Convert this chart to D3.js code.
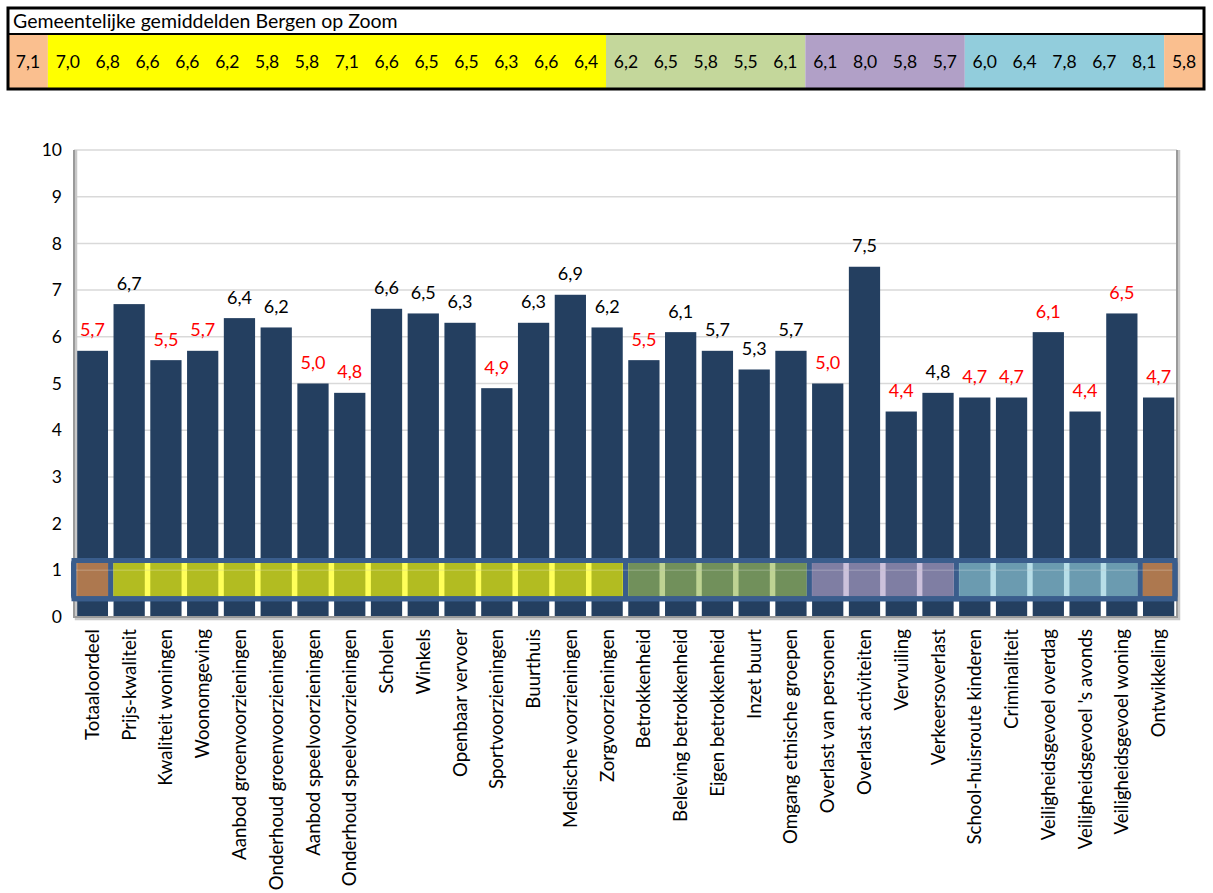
<!DOCTYPE html>
<html>
<head>
<meta charset="utf-8">
<script src="https://cdn.jsdelivr.net/npm/d3@7"></script>
<style>
  html, body { margin: 0; padding: 0; background: #ffffff; }
  svg { display: block; font-family: Lato, "Noto Sans", sans-serif; }
</style>
</head>
<body>
<script>
// Wijkscores per thema, met de gemeentelijke gemiddelden in de kopregel
const categories = [
  "Totaaloordeel", "Prijs-kwaliteit", "Kwaliteit woningen", "Woonomgeving",
  "Aanbod groenvoorzieningen", "Onderhoud groenvoorzieningen",
  "Aanbod speelvoorzieningen", "Onderhoud speelvoorzieningen",
  "Scholen", "Winkels", "Openbaar vervoer", "Sportvoorzieningen", "Buurthuis",
  "Medische voorzieningen", "Zorgvoorzieningen",
  "Betrokkenheid", "Beleving betrokkenheid", "Eigen betrokkenheid", "Inzet buurt",
  "Omgang etnische groepen",
  "Overlast van personen", "Overlast activiteiten", "Vervuiling", "Verkeersoverlast",
  "School-huisroute kinderen", "Criminaliteit", "Veiligheidsgevoel overdag",
  "Veiligheidsgevoel 's avonds", "Veiligheidsgevoel woning",
  "Ontwikkeling"
];

const scores = [
  5.7, 6.7, 5.5, 5.7, 6.4, 6.2, 5.0, 4.8, 6.6, 6.5, 6.3, 4.9, 6.3, 6.9, 6.2,
  5.5, 6.1, 5.7, 5.3, 5.7,
  5.0, 7.5, 4.4, 4.8,
  4.7, 4.7, 6.1, 4.4, 6.5,
  4.7
];

// scores flagged as clearly below the municipal average
const belowAverage = [
  true, false, true, true, false, false, true, true, false, false, false, true, false, false, false,
  true, false, false, false, false,
  true, false, true, false,
  true, true, true, true, true,
  true
];

const cityAverages = [
  7.1,
  7.0, 6.8, 6.6, 6.6, 6.2, 5.8, 5.8, 7.1, 6.6, 6.5, 6.5, 6.3, 6.6, 6.4,
  6.2, 6.5, 5.8, 5.5, 6.1,
  6.1, 8.0, 5.8, 5.7,
  6.0, 6.4, 7.8, 6.7, 8.1,
  5.8
];

// number of themes in each cluster, left to right
const groupSizes = [1, 14, 5, 4, 5, 1];

const yTicks = d3.range(0, 11);

const headerTitle = "Gemeentelijke gemiddelden Bergen op Zoom";

// ---- styling ----
const headerFills  = ["#fabf8f", "#ffff00", "#c4d79b", "#b1a0c7", "#92cddc", "#fabf8f"];
const overlayFills = ["#f79646", "#ffff00", "#9bbb59", "#b1a0c7", "#92cddc", "#f79646"];
const barColor = "#243f60";
const stripColor = "#3a5d8c";

const W = 1213, H = 893;
const comma = d3.formatLocale({ decimal: ",", thousands: ".", grouping: [3], currency: ["€", ""] }).format(".1f");

const svg = d3.select("body").append("svg").attr("width", W).attr("height", H);

// group ranges [start, end] as indices
const groups = [];
let start = 0;
groupSizes.forEach((n, i) => { groups.push({ s: start, e: start + n - 1, i }); start += n; });

// ---------- header table ----------
const hx = d3.scaleBand().domain(d3.range(cityAverages.length)).range([8, 1204]);
const hTop = 8, hMid = 34, hBot = 89;

const header = svg.append("g");
header.selectAll("rect.grp").data(groups).join("rect")
  .attr("x", d => hx(d.s))
  .attr("y", hMid)
  .attr("width", d => hx(d.e) + hx.bandwidth() - hx(d.s))
  .attr("height", hBot - hMid)
  .attr("fill", d => headerFills[d.i]);

header.append("text")
  .attr("x", 13).attr("y", hTop + 20)
  .attr("font-size", 19.5).attr("fill", "#000")
  .text(headerTitle);

header.selectAll("text.avg").data(cityAverages).join("text")
  .attr("class", "avg")
  .attr("x", (d, i) => hx(i) + hx.bandwidth() / 2)
  .attr("y", (hMid + hBot) / 2 + 6)
  .attr("text-anchor", "middle")
  .attr("font-size", 17.5).attr("fill", "#000")
  .text(d => comma(d));

header.append("line")
  .attr("x1", 8).attr("x2", 1204).attr("y1", hMid).attr("y2", hMid)
  .attr("stroke", "#000").attr("stroke-width", 2);
header.append("rect")
  .attr("x", 8).attr("y", hTop).attr("width", 1196).attr("height", hBot - hTop)
  .attr("fill", "none").attr("stroke", "#000").attr("stroke-width", 3);

// ---------- bar chart ----------
const plot = { left: 74, right: 1177, top: 150, bottom: 617 };

const x = d3.scaleBand().domain(categories)
  .range([plot.left, plot.right])
  .paddingInner(0.15).paddingOuter(0.075);
const y = d3.scaleLinear().domain([0, 10]).range([plot.bottom, plot.top]);

// gridlines
svg.append("g").selectAll("line").data(yTicks.filter(t => t > 0)).join("line")
  .attr("x1", plot.left).attr("x2", plot.right)
  .attr("y1", d => y(d)).attr("y2", d => y(d))
  .attr("stroke", "#d9d9d9").attr("stroke-width", 1.5);

// y axis labels
const yAxis = d3.axisLeft(y).tickValues(yTicks).tickSize(0).tickPadding(12)
  .tickFormat(d3.format("d"));
const yg = svg.append("g").attr("transform", `translate(${plot.left},0)`).call(yAxis);
yg.select(".domain").remove();
yg.selectAll("text").attr("font-size", 17.5).attr("fill", "#000")
  .attr("font-family", "Lato, sans-serif");

// bars
svg.append("g").selectAll("rect").data(scores).join("rect")
  .attr("x", (d, i) => x(categories[i]))
  .attr("y", d => y(d))
  .attr("width", x.bandwidth())
  .attr("height", d => y(0) - y(d))
  .attr("fill", barColor);

// value labels
svg.append("g").selectAll("text").data(scores).join("text")
  .attr("x", (d, i) => x(categories[i]) + x.bandwidth() / 2)
  .attr("y", d => y(d) - 14.5)
  .attr("text-anchor", "middle")
  .attr("font-size", 18)
  .attr("fill", (d, i) => belowAverage[i] ? "#ff0000" : "#000")
  .text(d => comma(d));

// plot frame: left, bottom, right with a soft shadow
const frame = svg.append("g");
frame.append("path")
  .attr("d", `M${plot.left + 2},${plot.top} V${plot.bottom + 2} H${plot.right + 2} V${plot.top}`)
  .attr("fill", "none").attr("stroke", "#c8c8c8").attr("stroke-width", 2.5);
frame.append("path")
  .attr("d", `M${plot.left},${plot.top} V${plot.bottom} H${plot.right} V${plot.top}`)
  .attr("fill", "none").attr("stroke", "#9a9a9a").attr("stroke-width", 2);

// cluster overlay strip across the lower part of the bars
const step = x.step();
const half = step * x.paddingInner() / 2;
const gx0 = d => Math.max(plot.left, x(categories[d.s]) - half);
const gx1 = d => Math.min(plot.right - 2, x(categories[d.e]) + x.bandwidth() + half);
const sTop = y(1.21), sBot = y(0.39);

const overlay = svg.append("g");
overlay.selectAll("rect").data(groups).join("rect")
  .attr("x", gx0)
  .attr("y", sTop)
  .attr("width", d => gx1(d) - gx0(d))
  .attr("height", sBot - sTop)
  .attr("fill", d => overlayFills[d.i])
  .attr("fill-opacity", 0.65)
  .attr("stroke", stripColor)
  .attr("stroke-width", 5);

overlay.append("line")
  .attr("x1", plot.left).attr("x2", plot.right)
  .attr("y1", y(1)).attr("y2", y(1))
  .attr("stroke", "#ffffff").attr("stroke-opacity", 0.18).attr("stroke-width", 1.5);

overlay.append("rect")
  .attr("x", plot.left - 0.5)
  .attr("y", sTop)
  .attr("width", plot.right - plot.left - 1.5)
  .attr("height", sBot - sTop)
  .attr("rx", 3)
  .attr("fill", "none")
  .attr("stroke", stripColor)
  .attr("stroke-width", 5);

// x labels, rotated
svg.append("g").selectAll("text").data(categories).join("text")
  .attr("transform", d => `translate(${x(d) + x.bandwidth() / 2},${plot.bottom + 12}) rotate(-90)`)
  .attr("dy", "0.35em")
  .attr("text-anchor", "end")
  .attr("font-size", 18.7)
  .attr("fill", "#000")
  .text(d => d);
</script>
</body>
</html>
